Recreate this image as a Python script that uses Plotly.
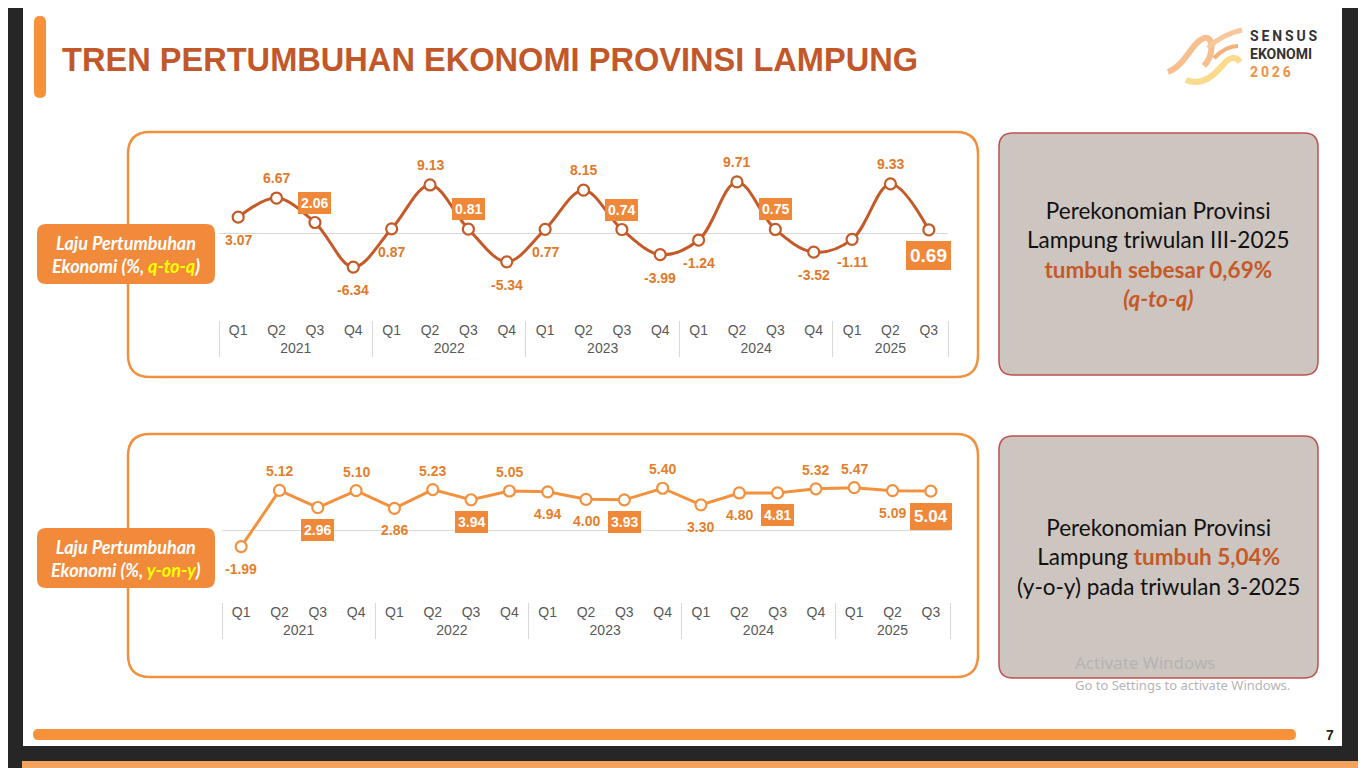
import plotly.graph_objects as go

# the page puts the figure 8px in from the window's corner
OFF = 8
W, H = 1366 - OFF, 768 - OFF

# ---------------- data ----------------
years = ["2021"] * 4 + ["2022"] * 4 + ["2023"] * 4 + ["2024"] * 4 + ["2025"] * 3
quarters = ["Q1", "Q2", "Q3", "Q4"] * 4 + ["Q1", "Q2", "Q3"]
qtq = [3.07, 6.67, 2.06, -6.34, 0.87, 9.13, 0.81, -5.34, 0.77, 8.15, 0.74, -3.99,
       -1.24, 9.71, 0.75, -3.52, -1.11, 9.33, 0.69]
yoy = [-1.99, 5.12, 2.96, 5.10, 2.86, 5.23, 3.94, 5.05, 4.94, 4.00, 3.93, 5.40,
       3.30, 4.80, 4.81, 5.32, 5.47, 5.09, 5.04]

# label placement (style): +1 above, -1 below ; boxed flags
qtq_pos = [-1, 1, 1, -1, -1, 1, 1, -1, -1, 1, 1, -1, -1, 1, 1, -1, -1, 1, -1]
qtq_box = [0, 0, 1, 0, 0, 0, 1, 0, 0, 0, 1, 0, 0, 0, 1, 0, 0, 0, 2]
yoy_pos = [-1, 1, -1, 1, -1, 1, -1, 1, -1, -1, -1, 1, -1, -1, -1, 1, 1, -1, -1]
yoy_box = [0, 0, 1, 0, 0, 0, 1, 0, 0, 0, 1, 0, 0, 0, 1, 0, 0, 0, 2]

# ---------------- helpers (window pixels -> paper) ----------------
def px(x):
    return (x - OFF) / W

def py(y):
    return 1 - (y - OFF) / H

def pxpath(d):
    s = ""
    for cmd, ps in d:
        s += cmd + " " + " ".join(f"{px(a):.5f},{py(b):.5f}" for a, b in ps) + " "
    return s

def rrect(x0, y0, x1, y1, r):
    d = [
        ("M", [(x0 + r, y0)]), ("L", [(x1 - r, y0)]), ("Q", [(x1, y0), (x1, y0 + r)]),
        ("L", [(x1, y1 - r)]), ("Q", [(x1, y1), (x1 - r, y1)]), ("L", [(x0 + r, y1)]),
        ("Q", [(x0, y1), (x0, y1 - r)]), ("L", [(x0, y0 + r)]), ("Q", [(x0, y0), (x0 + r, y0)]),
    ]
    return pxpath(d) + "Z"

shapes = []
annotations = []

def add_rect(x0, y0, x1, y1, fill):
    shapes.append(dict(type="rect", xref="paper", yref="paper", x0=px(x0), x1=px(x1),
                       y0=py(y1), y1=py(y0), fillcolor=fill,
                       line=dict(color=fill, width=0), layer="below"))

def add_rrect(x0, y0, x1, y1, r, fill, line=None, lw=0):
    shapes.append(dict(type="path", xref="paper", yref="paper", path=rrect(x0, y0, x1, y1, r),
                       fillcolor=fill, line=dict(color=line or "rgba(0,0,0,0)", width=lw),
                       layer="below"))

def add_text(x, y, text, size, color, family="Lato", xanchor="center", yanchor="middle", align="center"):
    annotations.append(dict(xref="paper", yref="paper", x=px(x), y=py(y), text=text,
                            showarrow=False, xanchor=xanchor, yanchor=yanchor, align=align,
                            font=dict(size=size, color=color, family=family)))

# ---------------- background / slide ----------------
add_rect(23, 4, 1342, 746, "#FFFFFF")
add_rect(22, 761, 1366, 768, "#F3A35E")
add_rrect(34, 16, 46, 98, 6, "#F7923A")
add_text(60, 60, "<b>TREN PERTUMBUHAN EKONOMI PROVINSI LAMPUNG</b>", 32.6, "#C2582A",
         family="Liberation Sans", xanchor="left")

# logo ribbon
ribbons = [
    ([("M", [(1168, 72)]), ("C", [(1185, 66), (1192, 42), (1204, 38)]),
      ("C", [(1214, 35), (1214, 55), (1204, 66)])], "#F8BF8E", 6),
    ([("M", [(1186, 80)]), ("C", [(1200, 86), (1212, 78), (1222, 66)]),
      ("C", [(1230, 56), (1236, 56), (1240, 62)])], "#FADB8C", 6),
    ([("M", [(1208, 48)]), ("C", [(1218, 38), (1228, 33), (1242, 30)])], "#F8C79A", 5),
    ([("M", [(1214, 58)]), ("C", [(1222, 50), (1230, 46), (1238, 46)])], "#F6B07A", 4),
]
for d, c, w in ribbons:
    shapes.append(dict(type="path", xref="paper", yref="paper", path=pxpath(d),
                       line=dict(color=c, width=w), layer="below"))
ts = "\u2009"
add_text(1248, 54,
         "<b>" + ts.join("SENSUS") + "<br>EKONOMI<br>"
         "<span style='color:#F0913F'>" + ts.join("2026") + "</span></b>",
         14, "#333333", family="Roboto", xanchor="left", align="left")

# bottom bar + page number
add_rrect(33, 729, 1296, 740, 5.5, "#F7923A")
add_text(1330, 735, "<b>7</b>", 14, "#222222", family="Liberation Sans")

# chart frames
add_rrect(128, 132, 978, 377, 22, "#FFFFFF", "#F0913F", 2.5)
add_rrect(128, 434, 978, 677, 22, "#FFFFFF", "#F0913F", 2.5)

# left labels
add_rrect(37, 224, 215, 284, 9, "#F28A3C")
add_rrect(37, 528, 215, 588, 9, "#F28A3C")
add_text(126, 254, "<b><i>Laju Pertumbuhan<br>Ekonomi (%, <span style='color:#FFFF00'>q-to-q</span>)</i></b>",
         18, "#FFFFFF")
add_text(126, 558, "<b><i>Laju Pertumbuhan<br>Ekonomi (%, <span style='color:#FFFF00'>y-on-y</span>)</i></b>",
         18, "#FFFFFF")

# right text boxes
add_rrect(999, 133, 1318, 375, 14, "#CDC5C0", "#C0504D", 1.5)
add_rrect(999, 436, 1318, 678, 14, "#CDC5C0", "#C0504D", 1.5)
add_text(1158, 254,
         "Perekonomian Provinsi<br>Lampung triwulan III-2025<br>"
         "<b><span style='color:#C55A28'>tumbuh sebesar 0,69%</span></b><br>"
         "<b><i><span style='color:#C55A28'>(q-to-q)</span></i></b>", 22.5, "#111111")
add_text(1158, 557,
         "Perekonomian Provinsi<br>Lampung <b><span style='color:#C55A28'>tumbuh 5,04%</span></b><br>"
         "(y-o-y) pada triwulan 3-2025", 22.5, "#111111")

# watermark
add_text(1073, 662, "Activate Windows", 17, "#B4B4B4", family="Noto Sans", xanchor="left")
add_text(1073, 685, "Go to Settings to activate Windows.", 13, "#B4B4B4", family="Noto Sans", xanchor="left")

# ---------------- traces ----------------
TOP_LINE = "#C45A28"
BOT_LINE = "#F3913F"
LBL_TOP = "#E07A2A"
LBL_BOT = "#E47F2C"
BOX = "#F0883A"

fig = go.Figure()
fig.add_trace(go.Scatter(
    x=[years, quarters], y=qtq, mode="lines+markers",
    line=dict(color=TOP_LINE, width=3, shape="spline", smoothing=1.0),
    marker=dict(symbol="circle", size=11, color="#FFFFFF", line=dict(color=TOP_LINE, width=2.2)),
    xaxis="x", yaxis="y", showlegend=False, hoverinfo="skip"))
fig.add_trace(go.Scatter(
    x=[years, quarters], y=yoy, mode="lines+markers",
    line=dict(color=BOT_LINE, width=3),
    marker=dict(symbol="circle", size=11, color="#FFFFFF", line=dict(color=BOT_LINE, width=2.2)),
    xaxis="x2", yaxis="y2", showlegend=False, hoverinfo="skip"))

def data_labels(vals, pos, box, xref, yref, color, up, down, big):
    for i, v in enumerate(vals):
        shift = up if pos[i] > 0 else -down
        if box[i] == 2:
            shift = -down - 3
        a = dict(xref=xref, yref=yref, x=i, y=v, text=f"<b>{v:.2f}</b>", showarrow=False,
                 yshift=shift, xanchor="center", yanchor="middle",
                 font=dict(size=14, color=color, family="Liberation Sans"))
        if box[i]:
            a["bgcolor"] = BOX
            a["borderwidth"] = 0
            a["font"] = dict(size=14 if box[i] == 1 else big, color="#FFFFFF", family="Liberation Sans")
            a["borderpad"] = 3 if box[i] == 1 else 4
        annotations.append(a)

data_labels(qtq, qtq_pos, qtq_box, "x", "y", LBL_TOP, 20, 23, 19)
data_labels(yoy, yoy_pos, yoy_box, "x2", "y2", LBL_BOT, 19, 22, 17)

n = len(quarters)
axis_x = dict(type="multicategory", showgrid=False, zeroline=False, showline=False,
              ticks="", showdividers=True, dividercolor="#D9D9D9", dividerwidth=1,
              tickfont=dict(size=14, color="#595959", family="Liberation Sans"),
              range=[-0.5, n - 0.5], autorange=False, fixedrange=True)
axis_y = dict(showgrid=False, showticklabels=False, zeroline=True, zerolinecolor="#D9D9D9",
              zerolinewidth=1, showline=False, ticks="", fixedrange=True)

fig.update_layout(
    width=W, height=H, margin=dict(l=0, r=0, t=0, b=0),
    paper_bgcolor="#262626", plot_bgcolor="rgba(0,0,0,0)",
    xaxis=dict(axis_x, domain=[px(219), px(948)], anchor="y"),
    yaxis=dict(axis_y, domain=[py(320), py(140)], range=[-16.3, 17.6], anchor="x"),
    xaxis2=dict(axis_x, domain=[px(222), px(950)], anchor="y2"),
    yaxis2=dict(axis_y, domain=[py(602), py(440)], range=[-8.99, 11.5], anchor="x2"),
    shapes=shapes, annotations=annotations,
)

fig.write_html("out.html")
